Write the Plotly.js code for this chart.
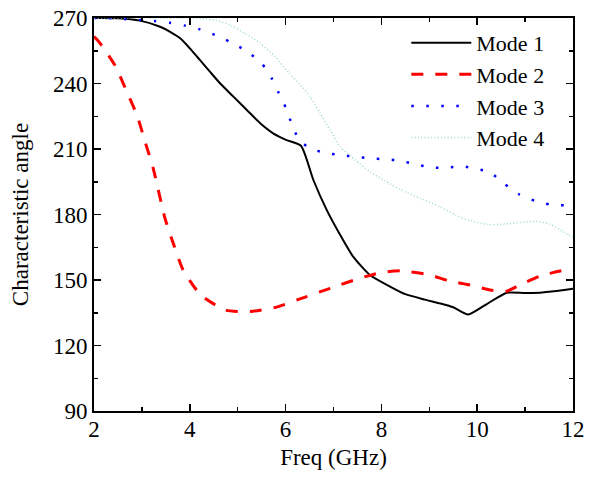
<!DOCTYPE html>
<html>
<head>
<meta charset="utf-8">
<script src="https://cdn.plot.ly/plotly-3.0.1.min.js"></script>
<style>html,body{margin:0;padding:0;background:#fff;}#chart{width:600px;height:479px;}</style>
</head>
<body>
<div id="chart"></div>
<script>
var seriesNames = ["Mode 1", "Mode 2", "Mode 3", "Mode 4"];

var mode1Freq = [2.0, 2.5, 2.96, 3.38, 3.59, 3.8, 4.0, 4.21, 4.42, 4.63, 4.91, 5.19, 5.47, 5.74, 6.02, 6.32, 6.58, 6.86, 7.14, 7.41, 7.76, 8.18, 8.5, 8.91, 9.22, 9.5, 9.81, 10.2, 10.62, 11.0, 11.31, 11.6, 12.0];
var mode1Angle = [270, 269.9, 268.8, 266.0, 263.7, 260.7, 256.1, 250.8, 245.4, 240.1, 234.0, 227.9, 221.8, 217.2, 214.1, 211.5, 195.8, 182.0, 170.6, 160.7, 152.3, 147.0, 143.5, 141.0, 139.3, 137.5, 134.2, 139.0, 144.2, 144.0, 144.2, 144.8, 146.0];

var mode2Freq = [2.0, 2.1, 2.44, 2.7, 2.9, 3.07, 3.24, 3.48, 3.66, 3.86, 4.23, 4.75, 5.27, 5.83, 6.27, 6.93, 7.55, 7.97, 8.39, 9.01, 9.39, 9.85, 10.27, 10.6, 10.89, 11.31, 11.6, 12.0];
var mode2Angle = [261.5, 259.2, 248.2, 235.5, 225.3, 213.1, 200.8, 178.4, 166.5, 154.6, 143.1, 136.2, 135.6, 137.7, 141.1, 146.2, 150.8, 153.3, 154.2, 152.3, 149.7, 147.7, 145.4, 144.8, 147.7, 151.8, 153.5, 155.2];

var mode3Freq = [2.0, 2.3, 2.63, 2.96, 3.27, 3.59, 3.9, 4.21, 4.53, 4.84, 5.17, 5.49, 5.71, 5.86, 6.01, 6.13, 6.27, 6.5, 6.82, 7.14, 7.45, 7.76, 8.08, 8.39, 8.72, 9.03, 9.35, 9.68, 9.99, 10.25, 10.57, 10.88, 11.21, 11.52, 11.83, 12.0];
var mode3Angle = [270, 270, 269.5, 269.1, 268.6, 267.8, 266.5, 264.8, 262.2, 259.1, 255.0, 249.5, 242.4, 235.5, 228.6, 221.4, 214.7, 210.3, 208.3, 207.2, 206.5, 205.7, 205.3, 204.6, 203.0, 201.6, 201.4, 202.1, 200.8, 199.6, 194.0, 189.2, 186.2, 184.6, 184.2, 184.0];

var mode4Freq = [2.0, 3.0, 4.0, 4.3, 4.53, 4.84, 5.15, 5.47, 5.78, 6.09, 6.3, 6.51, 6.72, 6.93, 7.14, 7.45, 7.76, 8.08, 8.39, 8.81, 9.22, 9.54, 9.85, 10.27, 10.68, 11.21, 11.52, 11.8, 12.0];
var mode4Angle = [270, 270, 270, 269.7, 269.0, 266.8, 263.0, 258.4, 252.3, 244.3, 239.5, 234.0, 226.3, 218.7, 211.0, 205.0, 199.6, 195.3, 191.4, 187.4, 183.6, 179.8, 177.2, 175.3, 175.8, 176.9, 175.6, 172.1, 169.5];

var xTickVals = [2, 4, 6, 8, 10, 12];
var yTickVals = [90, 120, 150, 180, 210, 240, 270];

var font = "Liberation Serif";

var traces = [
  {x: mode1Freq, y: mode1Angle, name: seriesNames[0], type: "scatter", mode: "lines",
   line: {color: "#000000", width: 2, shape: "spline", smoothing: 0.6}},
  {x: mode2Freq, y: mode2Angle, name: seriesNames[1], type: "scatter", mode: "lines",
   line: {color: "#ff0000", width: 3, dash: "12px,12px", shape: "spline", smoothing: 0.6}},
  {x: mode3Freq, y: mode3Angle, name: seriesNames[2], type: "scatter", mode: "lines",
   line: {color: "#0000ff", width: 2.5, dash: "2.5px,12.5px", shape: "spline", smoothing: 0.6}},
  {x: mode4Freq, y: mode4Angle, name: seriesNames[3], type: "scatter", mode: "lines",
   line: {color: "#9fd6d6", width: 1.5, dash: "1px,2.3px", shape: "spline", smoothing: 0.6}}
];

var axisCommon = {
  showline: true, linecolor: "#000", linewidth: 2, mirror: "ticks",
  ticks: "inside", ticklen: 7, tickwidth: 1.5, tickcolor: "#000",
  showgrid: false, zeroline: false,
  tickfont: {family: font, size: 23, color: "#000"}
};

var layout = {
  width: 600, height: 479,
  margin: {l: 94, r: 27, t: 18, b: 68},
  paper_bgcolor: "#fff", plot_bgcolor: "#fff",
  font: {family: font, color: "#000"},
  showlegend: true,
  legend: {x: 0.652, y: 0.99, xanchor: "left", yanchor: "top",
           bgcolor: "rgba(0,0,0,0)", borderwidth: 0,
           font: {family: font, size: 22, color: "#000"},
           itemwidth: 60, tracegroupgap: 0},
  xaxis: Object.assign({}, axisCommon, {
    range: [2, 12], tickvals: xTickVals, ticktext: xTickVals.map(String),
    ticklabelstandoff: -4,
    minor: {dtick: 1, ticklen: 4, tickwidth: 1.5, ticks: "inside", tickcolor: "#000"},
    title: {text: "Freq (GHz)", font: {family: font, size: 23, color: "#000"}, standoff: 8}
  }),
  yaxis: Object.assign({}, axisCommon, {
    range: [90, 270], tickvals: yTickVals, ticktext: yTickVals.map(String),
    minor: {dtick: 15, ticklen: 4, tickwidth: 1.5, ticks: "inside", tickcolor: "#000"},
    title: {text: "Characteristic angle", font: {family: font, size: 23, color: "#000"}, standoff: 18}
  })
};

Plotly.newPlot("chart", traces, layout, {displayModeBar: false, staticPlot: true});
</script>
</body>
</html>
